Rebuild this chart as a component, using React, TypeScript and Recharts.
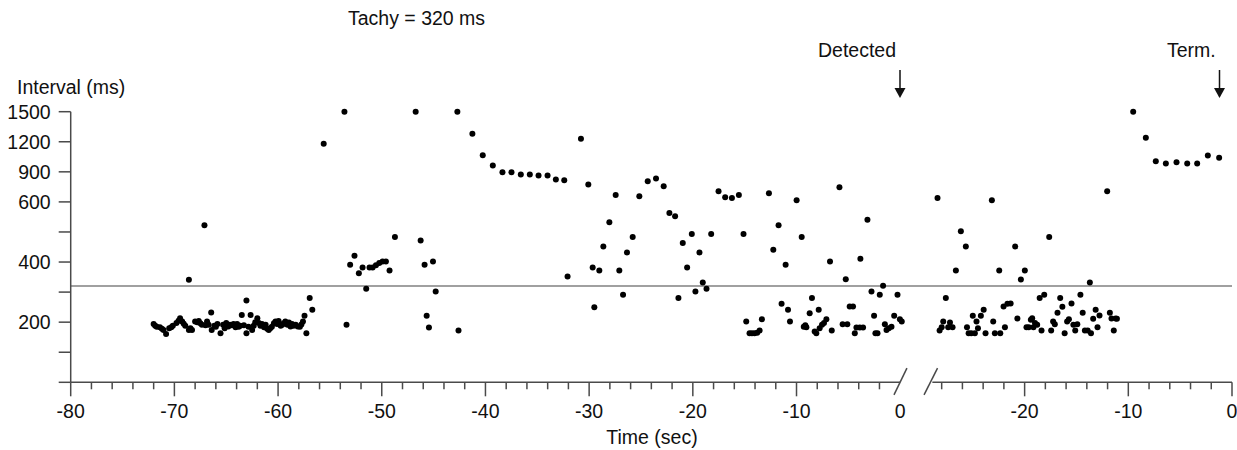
import React from "react";
import { ScatterChart, Scatter, XAxis, YAxis, ReferenceLine } from "recharts";

// [time (sec), interval (ms)]
// sinus rhythm before onset, -72 … -57 s
const SINUS_BAND: [number, number][] = [
  [-72.0, 194], [-71.85, 188], [-71.7, 185], [-71.4, 183], [-71.2, 178], [-71.05, 174],
  [-70.8, 161], [-70.5, 180], [-70.3, 183], [-70.15, 188], [-69.8, 197], [-69.6, 205],
  [-69.45, 213], [-69.25, 202], [-69.1, 195], [-68.95, 188], [-68.6, 174], [-68.6, 341],
  [-68.45, 180], [-68.3, 174], [-68.0, 202], [-67.8, 200], [-67.65, 204], [-67.5, 196],
  [-67.35, 191], [-67.1, 522], [-67.0, 190], [-66.85, 202], [-66.7, 191], [-66.45, 232],
  [-66.4, 174], [-66.15, 188], [-66.0, 185], [-65.85, 194], [-65.55, 163], [-65.3, 191],
  [-65.15, 180], [-65.0, 197], [-64.8, 186], [-64.65, 191], [-64.45, 190], [-64.3, 194],
  [-64.1, 183], [-63.95, 194], [-63.8, 185], [-63.65, 188], [-63.5, 224], [-63.3, 190],
  [-63.05, 272], [-63.05, 163], [-62.85, 185], [-62.65, 224], [-62.5, 174], [-62.35, 188],
  [-62.2, 200], [-62.0, 213], [-61.85, 197], [-61.7, 188], [-61.55, 194], [-61.35, 183],
  [-61.2, 191], [-61.05, 178], [-60.9, 174], [-60.75, 180], [-60.6, 185], [-60.4, 196],
  [-60.25, 202], [-60.1, 194], [-59.95, 204], [-59.75, 188], [-59.6, 191], [-59.45, 196],
  [-59.3, 202], [-59.1, 191], [-58.95, 199], [-58.8, 186], [-58.65, 194], [-58.5, 188],
  [-58.3, 191], [-58.1, 186], [-57.9, 185], [-57.75, 192], [-57.6, 202], [-57.45, 221],
  [-57.27, 163], [-56.95, 280], [-56.7, 241],
];

// onset and long-interval run, -56 … -27 s
const ONSET: [number, number][] = [
  [-55.6, 1180], [-53.6, 1500], [-53.4, 191], [-53.05, 391], [-52.63, 421], [-52.21, 363],
  [-51.85, 382], [-51.5, 311], [-51.18, 382], [-50.88, 382], [-50.56, 389], [-50.24, 397],
  [-49.92, 402], [-49.6, 402], [-49.25, 372], [-48.73, 483], [-46.73, 1500], [-46.25, 472],
  [-45.87, 391], [-45.67, 221], [-45.45, 182], [-45.06, 402], [-44.8, 302], [-42.71, 1500],
  [-42.6, 172], [-41.26, 1280], [-40.26, 1066], [-39.29, 963], [-38.36, 896], [-37.49, 896],
  [-36.59, 873], [-35.72, 873], [-34.88, 864], [-34.01, 864], [-33.21, 823], [-32.4, 816],
  [-32.08, 352], [-30.79, 1230], [-30.08, 773], [-29.66, 382], [-29.5, 250], [-29.02, 372],
  [-28.63, 452], [-28.05, 532], [-27.44, 670], [-27.09, 372],
];

// irregular run up to detection, -27 … 0 s
const PRE_DETECT: [number, number][] = [
  [-26.73, 291], [-26.35, 432], [-25.8, 483], [-25.16, 656], [-24.35, 806], [-23.55, 833],
  [-22.81, 756], [-22.26, 563], [-21.71, 552], [-21.39, 280], [-20.97, 463], [-20.55, 382],
  [-20.1, 493], [-19.75, 302], [-19.36, 432], [-19.04, 332], [-18.68, 311], [-18.23, 493],
  [-17.52, 706], [-16.88, 647], [-16.23, 640], [-15.56, 670], [-15.11, 493], [-14.85, 202],
  [-14.53, 163], [-14.3, 163], [-14.05, 163], [-13.79, 165], [-13.56, 172], [-13.34, 210],
  [-12.66, 686], [-12.24, 441], [-11.73, 522], [-11.44, 261], [-11.05, 391], [-10.82, 241],
  [-10.63, 202], [-9.99, 616], [-9.5, 483], [-9.3, 185], [-9.15, 190], [-9.05, 183],
  [-8.73, 230], [-8.51, 280], [-8.25, 169], [-8.09, 163], [-7.86, 241], [-7.77, 180],
  [-7.54, 191], [-7.35, 197], [-7.12, 210], [-6.77, 402], [-6.6, 172], [-5.86, 746],
  [-5.55, 193], [-5.25, 343], [-5.1, 193], [-4.87, 252], [-4.55, 252], [-4.38, 163],
  [-4.22, 182], [-3.9, 182], [-3.84, 411], [-3.58, 182], [-3.16, 541], [-2.77, 302],
  [-2.52, 221], [-2.39, 163], [-2.19, 163], [-1.97, 291], [-1.65, 321], [-1.48, 193],
  [-1.32, 174], [-1.1, 180], [-0.84, 185], [-0.58, 221], [-0.26, 291], [-0.03, 210],
  [0.15, 202],
];

// after the axis break, time before termination
const POST_BURST: [number, number][] = [
  [-28.4, 640], [-28.2, 172], [-28.0, 183], [-27.85, 202], [-27.6, 280], [-27.37, 183],
  [-27.2, 199], [-26.95, 183], [-26.63, 372], [-26.15, 502], [-25.67, 452], [-25.56, 183],
  [-25.4, 163], [-25.15, 163], [-25.0, 221], [-24.8, 163], [-24.64, 202], [-24.5, 180],
  [-24.22, 221], [-23.95, 241], [-23.77, 163], [-23.16, 616], [-23.03, 202], [-22.87, 163],
  [-22.45, 372], [-22.35, 163], [-22.03, 252], [-21.9, 183], [-21.66, 261], [-21.35, 262],
  [-20.91, 452], [-20.7, 212], [-20.36, 342], [-19.98, 372], [-19.82, 183], [-19.6, 183],
  [-19.4, 208], [-19.27, 213], [-19.15, 183], [-19.0, 197], [-18.79, 191], [-18.55, 280],
  [-18.37, 172], [-18.11, 291], [-17.63, 483], [-17.44, 172], [-17.25, 202], [-17.09, 193],
  [-16.83, 231], [-16.57, 280], [-16.36, 251], [-16.14, 163], [-15.9, 202], [-15.73, 210],
  [-15.48, 262], [-15.3, 191], [-15.12, 172], [-14.92, 193], [-14.62, 291], [-14.4, 231],
  [-14.19, 172], [-13.92, 172], [-13.71, 332], [-13.6, 163], [-13.39, 211], [-13.15, 241],
  [-12.97, 183], [-12.78, 222], [-12.04, 706], [-11.78, 231], [-11.62, 212], [-11.4, 172],
  [-11.22, 212], [-11.1, 211],
];

const TERMINATION: [number, number][] = [
  [-9.53, 1500], [-8.31, 1240], [-7.35, 1006], [-6.38, 983], [-5.35, 996], [-4.32, 983],
  [-3.36, 983], [-2.33, 1063], [-1.24, 1040],
];

// y ticks: plotted value -> label (axis is compressed above 600 ms)
const Y_TICKS = [0, 100, 200, 300, 400, 500, 600, 700, 800, 900];
const Y_LABELS: Record<number, string> = { 200: "200", 400: "400", 600: "600", 700: "900", 800: "1200", 900: "1500" };

const LEFT_MAJOR = [-80, -70, -60, -50, -40, -30, -20, -10, 0];
const RIGHT_MAJOR = [-20, -10, 0];

const TACHY_MS = 320;
const RIGHT_OFFSET = 32; // where the post-break segment sits on the shared axis
const FONT = "'Liberation Sans', Arial, sans-serif";
const AXIS = "#4a4a4a";

const squash = (ms: number) => (ms <= 600 ? ms : 600 + (ms - 600) / 3);

const leftData = [...SINUS_BAND, ...ONSET, ...PRE_DETECT].map(([t, ms]) => ({ x: t, y: squash(ms) }));
const rightData = [...POST_BURST, ...TERMINATION].map(([t, ms]) => ({ x: t + RIGHT_OFFSET, y: squash(ms) }));

const xTicks: number[] = [];
for (let t = -80; t <= 0; t += 2) xTicks.push(t);
for (let t = -28; t <= 0; t += 2) xTicks.push(t + RIGHT_OFFSET);

function XTick(props: any) {
  const { x, y, payload } = props;
  const u = payload.value;
  const right = u > 1;
  const t = right ? u - RIGHT_OFFSET : u;
  const major = (right ? RIGHT_MAJOR : LEFT_MAJOR).includes(t);
  return (
    <g>
      {!(u === 0) && (
        <line x1={x} x2={x} y1={y} y2={y + (major ? 14 : 7)} stroke={AXIS} strokeWidth={1.5} />
      )}
      {major && (
        <text x={x} y={y + 36} textAnchor="middle" fill="#111" fontSize={19.5} fontFamily={FONT}>
          {String(t)}
        </text>
      )}
    </g>
  );
}

const Dot = (props: any) => <circle cx={props.cx} cy={props.cy} r={3} fill="#000" />;

export default function App() {
  return (
    <div style={{ position: "absolute", left: 0, top: 0, width: 1237, height: 450, background: "#fff" }}>
      <ScatterChart width={1237} height={450} margin={{ top: 111.7, right: 5, bottom: 7.7, left: 10.7 }}>
        <XAxis
          dataKey="x"
          type="number"
          domain={[-80, 32]}
          ticks={xTicks}
          interval={0}
          tick={(p: any) => <XTick {...p} />}
          tickSize={0}
          tickMargin={0}
          tickLine={false}
          axisLine={false}
          height={60}
          allowDataOverflow
        />
        <YAxis
          dataKey="y"
          type="number"
          domain={[0, 900]}
          ticks={Y_TICKS}
          interval={0}
          tickFormatter={(v: number) => Y_LABELS[v] ?? ""}
          tickSize={12}
          tickMargin={8}
          width={60}
          axisLine={{ stroke: AXIS, strokeWidth: 1.5 }}
          tickLine={{ stroke: AXIS, strokeWidth: 1.5 }}
          tick={{ fill: "#111", fontSize: 19.5, fontFamily: FONT }}
        />
        <ReferenceLine y={squash(TACHY_MS)} stroke="#a0a0a0" strokeWidth={2} />
        <ReferenceLine segment={[{ x: -80, y: 0 }, { x: 0, y: 0 }]} stroke={AXIS} strokeWidth={1.5} />
        <ReferenceLine segment={[{ x: 3.1, y: 0 }, { x: 32, y: 0 }]} stroke={AXIS} strokeWidth={1.5} />
        <ReferenceLine segment={[{ x: -0.6, y: -42 }, { x: 0.65, y: 47 }]} stroke={AXIS} strokeWidth={1.5} ifOverflow="visible" />
        <ReferenceLine segment={[{ x: 2.3, y: -42 }, { x: 3.6, y: 47 }]} stroke={AXIS} strokeWidth={1.5} ifOverflow="visible" />
        <Scatter data={leftData} shape={Dot} isAnimationActive={false} />
        <Scatter data={rightData} shape={Dot} isAnimationActive={false} />
      </ScatterChart>
      <svg width={1237} height={450} style={{ position: "absolute", left: 0, top: 0, pointerEvents: "none" }}>
        <g fontFamily={FONT} fontSize={19.5} fill="#111">
          <text x={348} y={25}>Tachy = 320 ms</text>
          <text x={17} y={94}>Interval (ms)</text>
          <text x={818} y={57}>Detected</text>
          <text x={1167} y={57}>Term.</text>
          <text x={652} y={444} textAnchor="middle">Time (sec)</text>
        </g>
        <line x1={900} x2={900} y1={70} y2={90} stroke="#111" strokeWidth={1.5} />
        <polygon points="894.5,88 905.5,88 900,98" fill="#111" />
        <line x1={1219.5} x2={1219.5} y1={70} y2={90} stroke="#111" strokeWidth={1.5} />
        <polygon points="1214,88 1225,88 1219.5,98" fill="#111" />
      </svg>
    </div>
  );
}
